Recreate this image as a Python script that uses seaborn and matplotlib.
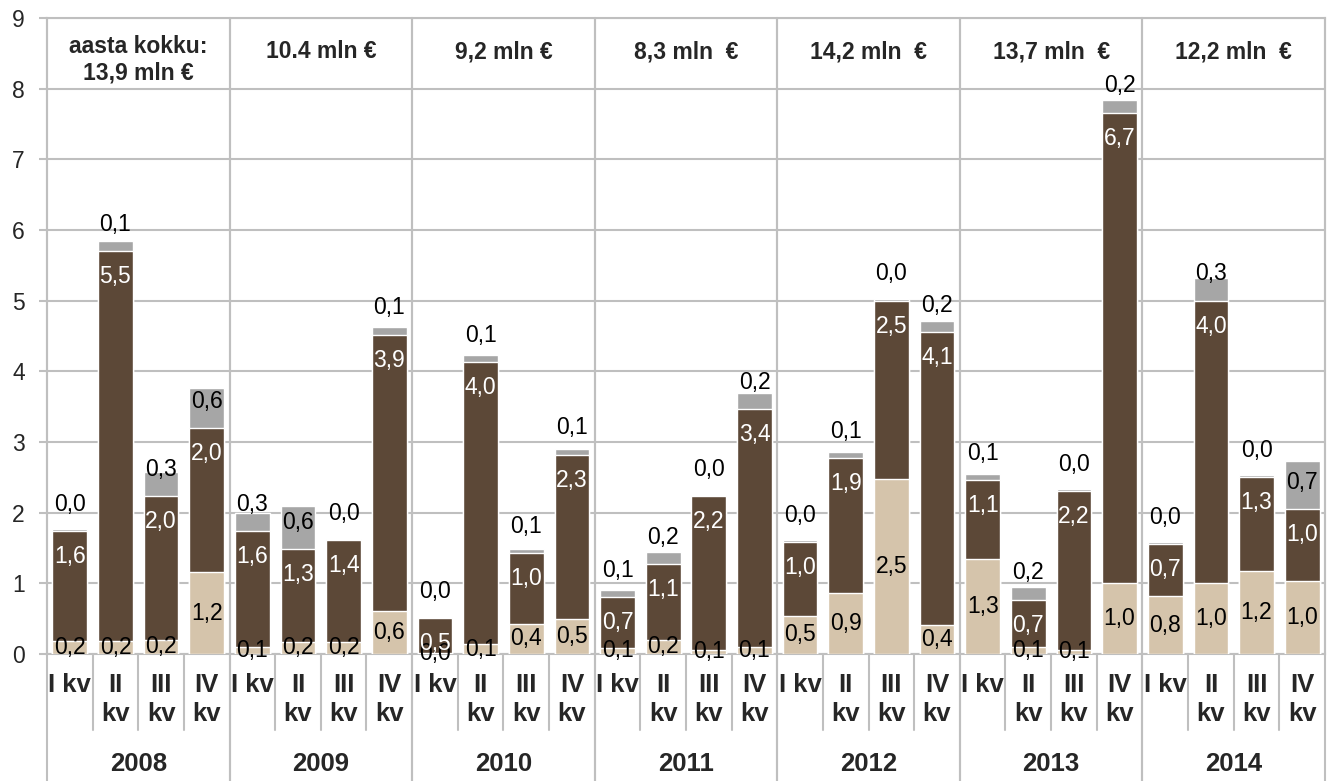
import numpy as np
import pandas as pd
import matplotlib
matplotlib.use("Agg")
import matplotlib.pyplot as plt
import seaborn as sns
from matplotlib.transforms import blended_transform_factory

# Chart data (mln EUR per quarter, three stacked components)
years = ["2008", "2009", "2010", "2011", "2012", "2013", "2014"]
quarters = ["I kv", "II\nkv", "III\nkv", "IV\nkv"]
year_totals = ["aasta kokku:\n13,9 mln €", "10.4 mln €", "9,2 mln €", "8,3 mln  €",
               "14,2 mln  €", "13,7 mln  €", "12,2 mln  €"]

beige = [0.18, 0.18, 0.20, 1.16, 0.10, 0.17, 0.17, 0.61, 0.01, 0.14, 0.43, 0.50,
         0.09, 0.20, 0.06, 0.10, 0.54, 0.87, 2.48, 0.41, 1.34, 0.10, 0.06, 1.00,
         0.82, 1.00, 1.17, 1.03]
brown = [1.56, 5.52, 2.03, 2.04, 1.64, 1.31, 1.44, 3.91, 0.50, 3.99, 1.00, 2.32,
         0.71, 1.07, 2.17, 3.36, 1.04, 1.90, 2.52, 4.14, 1.12, 0.67, 2.24, 6.66,
         0.73, 4.00, 1.33, 1.02]
gray = [0.03, 0.14, 0.34, 0.56, 0.26, 0.62, 0.02, 0.11, 0.01, 0.10, 0.06, 0.08,
        0.10, 0.18, 0.02, 0.23, 0.04, 0.09, 0.03, 0.16, 0.09, 0.18, 0.04, 0.18,
        0.04, 0.32, 0.04, 0.68]

c_beige = "#D5C4AB"
c_brown = "#5C4837"
c_gray = "#A6A6A6"
c_grid = "#BFBFBF"

sns.set_style("white")
plt.rcParams["font.family"] = ["Liberation Sans", "DejaVu Sans"]

df = pd.DataFrame({
    "key": [f"{y} {q}" for y in years for q in quarters],
    "beige": beige, "brown": brown, "gray": gray,
})
df["mid"] = df["beige"] + df["brown"]
df["top"] = df["mid"] + df["gray"]
order = list(df["key"])

fig = plt.figure(figsize=(13.29, 7.81), dpi=100)
ax = fig.add_axes([47 / 1329, 1 - 654 / 781, (1325 - 47) / 1329, (654 - 18) / 781])

# stacked bars drawn back to front
for col, c in [("top", c_gray), ("mid", c_brown), ("beige", c_beige)]:
    sns.barplot(data=df, x="key", y=col, order=order, color=c, saturation=1,
                width=0.76, errorbar=None, ax=ax, zorder=3)

ax.set_xlim(-0.5, len(order) - 0.5)
ax.set_ylim(0, 9)
ax.set_yticks(range(10))
ax.set_xticks([])
ax.set_xlabel("")
ax.set_ylabel("")
ax.tick_params(axis="y", labelsize=16.5, length=6, width=1.5, color=c_grid, pad=10, left=True)
ax.yaxis.grid(True, color=c_grid, lw=1.5, zorder=0)
ax.set_axisbelow(True)
for s in ax.spines.values():
    s.set_color(c_grid)
    s.set_linewidth(1.5)

def fmt(v):
    return f"{v:.1f}".replace(".", ",")

lbl = dict(ha="center", va="center", fontsize=16.5, zorder=5)
for i, r in df.iterrows():
    ax.text(i, r["beige"] / 2, fmt(r["beige"]), color="black", **lbl)
    ax.text(i, r["mid"] - 0.36, fmt(r["brown"]), color="white", **lbl)
    ax.text(i, r["mid"] + 0.38, fmt(r["gray"]), color="black", **lbl)

# category axis with quarter and year rows
trans = blended_transform_factory(ax.transData, ax.transAxes)
for k in range(len(order)):
    q = quarters[k % 4]
    ax.text(k, -0.03, q, transform=trans, ha="center", va="top", fontsize=18.5,
            fontweight="bold", linespacing=1.25)
    if k % 4 != 3:
        ax.plot([k + 0.5, k + 0.5], [0, -0.12], transform=trans, color=c_grid,
                lw=1.5, clip_on=False)

for j, y in enumerate(years):
    xc = j * 4 + 1.5
    ax.text(xc, -0.173, y, transform=trans, ha="center", va="center",
            fontsize=18.5, fontweight="bold")
    yt = 8.41 if j == 0 else 8.52
    ax.text(xc, yt, year_totals[j], ha="center", va="center", fontsize=16.5,
            fontweight="bold", linespacing=1.15, zorder=5)
    for xb in [j * 4 - 0.5, j * 4 + 3.5]:
        ax.plot([xb, xb], [-0.21, 1], transform=trans, color=c_grid, lw=1.5,
                clip_on=False, zorder=1)

fig.savefig("out.png", dpi=100)
